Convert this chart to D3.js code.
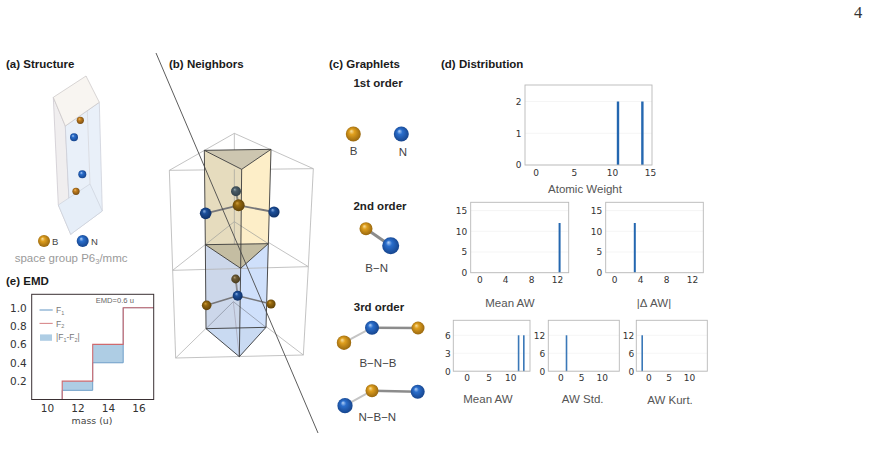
<!DOCTYPE html>
<html><head><meta charset="utf-8">
<script src="https://cdnjs.cloudflare.com/ajax/libs/d3/7.8.5/d3.min.js"></script>
<style>html,body{margin:0;padding:0;background:#fff}svg{display:block}</style></head>
<body><svg id="c" width="869" height="460"></svg>
<script>
// --- data ---
const panelTitles=["(a) Structure","(b) Neighbors","(c) Graphlets","(d) Distribution","(e) EMD"];
const emdBins=[9,11,13,15,17];
const emdF1=[0,0.1,0.4,1.0];
const emdF2=[0,0.2,0.6,1.0];
const emdTicksX=[10,12,14,16];
const emdTicksY=[0.2,0.4,0.6,0.8,1.0];
const atomicWeightValues=[10.8,14.0];
const atomicWeightCounts=[2,2];
const meanAwValues=[12.4];
const meanAwCounts=[12];
const deltaAwValues=[3.2];
const deltaAwCounts=[12];
const mean3Values=[11.9,13.1];
const mean3Counts=[6,6];
const std3Values=[1.5];
const std3Counts=[12];
const kurt3Values=[-1.5];
const kurt3Counts=[12];

const svg=d3.select("#c");
const SANS="'Liberation Sans',Arial,sans-serif", DJ="'DejaVu Sans',sans-serif";
const defs=svg.append("defs");
function grad(id,hi,mid,lo){
  const g=defs.append("radialGradient").attr("id",id).attr("cx","0.5").attr("cy","0.5").attr("r","0.6").attr("fx","0.36").attr("fy","0.3");
  g.append("stop").attr("offset","0").attr("stop-color",hi);
  g.append("stop").attr("offset","0.3").attr("stop-color",mid);
  g.append("stop").attr("offset","1").attr("stop-color",lo);
}
grad("gB","#f8e0a0","#df9f1e","#8a5c0c");
grad("gN","#b4d2f8","#2a6ecc","#123c80");
grad("gBd","#d09e3a","#97690e","#543a06");
grad("gNd","#8ab0e4","#1c4f9a","#0c2a5c");
grad("gGd","#94a6ae","#4a5c66","#2c3a42");
grad("gBr","#b09a70","#6c5a34","#40341a");
grad("gBo","#eebb77","#c4801e","#6a4210");

function text(s,x,y,o={}){
  return svg.append("text").attr("x",x).attr("y",y).text(s)
   .attr("font-family",o.f||SANS).attr("font-size",o.s||11.5).attr("font-weight",o.w||"normal")
   .attr("fill",o.c||"#444").attr("text-anchor",o.a||"start");
}
function poly(pts,fill,stroke,sw,op){
  svg.append("path").attr("d",d3.line().curve(d3.curveLinearClosed)(pts))
   .attr("fill",fill).attr("stroke",stroke||"none").attr("stroke-width",sw||0).attr("fill-opacity",op==null?1:op);
}
function seg(a,b,stroke,sw){
  svg.append("path").attr("d",d3.line()([a,b])).attr("stroke",stroke).attr("stroke-width",sw).attr("fill","none");
}
function atom(x,y,r,g){svg.append("circle").attr("cx",x).attr("cy",y).attr("r",r).attr("fill",`url(#${g})`);}

// page number
text("4",858,18,{f:"'Liberation Serif',serif",s:16.5,c:"#333",a:"middle"});

// titles
const titlePos=[[6,68],[169,68],[329,68],[441,68],[6,285]];
panelTitles.forEach((t,i)=>text(t,titlePos[i][0],titlePos[i][1],{w:"bold",s:11.5,c:"#1a1a1a"}));

// --- (a) structure ---
poly([[53.3,97.3],[65.3,126],[70.7,234.3],[58.3,205]],"#f0eeef","#c8c4cc",.7);
poly([[65.3,126],[99.3,102.3],[102.3,211],[70.7,234.3]],"#e9f0f9","#c8ccd6",.7);
poly([[58.3,205],[90,184],[102.3,211],[70.7,234.3]],"#e6eef8","#c8ccd6",.6);
seg([86,76],[90,184],"#d2d0d4",.6);
poly([[53.3,97.3],[86,76],[99.3,102.3],[65.3,126]],"#f8f5f1","#c8c4c4",.7);
atom(80.3,120.3,3.6,"gBo");atom(74,137.3,4,"gN");atom(82.3,174.3,4,"gN");atom(76,191.3,3.6,"gBo");
atom(44,241,6,"gB");atom(82.7,241,6,"gN");
text("B",52,244.5,{s:9.5,c:"#444"});text("N",91,244.5,{s:9.5,c:"#444"});
const sg=text("space group P6",14.7,261.5,{s:11.5,c:"#9a9a9a"});
sg.append("tspan").attr("font-size",7.5).attr("dy",2).text("3");
sg.append("tspan").attr("dy",-2).text("/mmc");

// --- (b) neighbors ---
const bx=p=>[150+p[0]/3,120+p[1]/3];
const wire="#b4b4b4";
function w(a,b,c,sw){seg(bx(a),bx(b),c||wire,sw||.8);}
w([253,40],[490,146]);w([253,40],[58,151]);w([58,151],[490,146]);
w([253,40],[253,305]);w([253,305],[250,545]);
w([253,305],[475,440]);w([253,305],[68,451]);
w([250,545],[460,705]);w([250,545],[77,714]);
const P=a=>a.map(bx);
poly(P([[163,91],[363,88],[275,148]]),"#cdc6b0");
poly(P([[163,91],[275,148],[272,445],[166,374]]),"#e6dcbe");
poly(P([[275,148],[363,88],[355,371],[272,445]]),"#fdeec8");
poly(P([[166,374],[272,445],[268,710],[168,626]]),"#ccd7ea");
poly(P([[272,445],[355,371],[348,622],[268,710]]),"#cfe0fb");
poly(P([[168,626],[348,622],[268,710]]),"#c9daf2");
w([253,305],[166,374],"#a8a8a0");w([253,305],[355,371],"#a8a8a0");
w([253,148],[253,374],"#a8a8a0");
poly(P([[166,374],[355,371],[272,445]]),"#c4bda2");
w([250,545],[168,626],"#8e96a4");w([250,545],[348,622],"#8e96a4");w([250,545],[268,710],"#aab");
w([68,451],[475,440]);
w([58,151],[68,451]);w([68,451],[77,714]);w([490,146],[475,440]);w([475,440],[460,705]);w([77,714],[460,705]);
const dk="#3a3a3a";
[[[163,91],[363,88]],[[363,88],[275,148]],[[275,148],[163,91]],[[163,91],[166,374]],[[363,88],[355,371]],[[275,148],[272,445]],
 [[166,374],[355,371]],[[166,374],[272,445]],[[355,371],[272,445]],[[272,445],[268,710]],[[166,374],[168,626]],[[355,371],[348,622]],
 [[168,626],[268,710]],[[348,622],[268,710]],[[168,626],[348,622]]].forEach(e=>w(e[0],e[1],dk,.9));
w([258,214],[266,256],"#8a8a80",2);
w([266,256],[167,280],"#77777a",1.8);w([266,256],[372,276],"#77777a",1.8);
w([257,477],[263,527],"#8a8a90",1.8);
w([263,527],[170,556],"#77777a",1.6);w([263,527],[363,552],"#77777a",1.6);
let q=bx([258,214]);atom(q[0],q[1],5,"gGd");
q=bx([266,256]);atom(q[0],q[1],6,"gBd");
q=bx([167,280]);atom(q[0],q[1],5.8,"gNd");
q=bx([372,276]);atom(q[0],q[1],5.6,"gNd");
q=bx([257,477]);atom(q[0],q[1],4.4,"gBr");
q=bx([263,527]);atom(q[0],q[1],5,"gNd");
q=bx([170,556]);atom(q[0],q[1],4.8,"gBd");
q=bx([363,552]);atom(q[0],q[1],4.6,"gBd");
seg([156,53],[318,433],"#4a4a4a",.9);

// --- (c) graphlets ---
const hd={w:"bold",s:11.5,c:"#222",a:"middle"};
text("1st order",378,87,hd);text("2nd order",380,210,hd);text("3rd order",379,310.5,hd);
atom(353.3,134,7.5,"gB");atom(401.3,134,7.5,"gN");
text("B",353.5,155,{a:"middle"});text("N",403,156,{a:"middle"});
seg([366,228.7],[390.7,245.7],"#8c8c8c",3);
atom(366,228.7,6.5,"gB");atom(390.7,245.7,8.5,"gN");
text("B−N",376.7,271.5,{a:"middle"});
seg([344,342.7],[372,327.7],"#c4c4c4",2);seg([372,327.7],[418,328],"#8c8c8c",2.6);
atom(344,342.7,7.2,"gB");atom(372,327.7,7,"gN");atom(418,328,6.5,"gB");
text("B−N−B",378,367,{a:"middle"});
seg([345,405.7],[372,390.7],"#c4c4c4",2);seg([372,390.7],[417.7,391.7],"#8c8c8c",2.6);
atom(345,405.7,7.6,"gN");atom(372,390.7,6.5,"gB");atom(417.7,391.7,7,"gN");
text("N−B−N",377.3,420.5,{a:"middle"});

// --- (d) histograms ---
function hist(o){
  const x=d3.scaleLinear().domain(o.xd).range([o.x0,o.x1]);
  const y=d3.scaleLinear().domain(o.yd).range([o.y0,o.y1]);
  const g=svg.append("g");
  g.selectAll(".gl").data(o.yt).join("line").attr("x1",o.x0).attr("x2",o.x1).attr("y1",d=>y(d)).attr("y2",d=>y(d)).attr("stroke","#f3f3f3").attr("stroke-width",.8);
  g.selectAll(".b").data(o.v).join("rect").attr("x",d=>x(d)-(o.bw||2)/2).attr("width",o.bw||2)
    .attr("y",(d,i)=>y(o.c[i])).attr("height",(d,i)=>y(0)-y(o.c[i])).attr("fill",o.col||"#2467b0");
  g.append("rect").attr("x",o.x0).attr("y",o.y1).attr("width",o.x1-o.x0).attr("height",o.y0-o.y1).attr("fill","none").attr("stroke","#b8b8b8").attr("stroke-width",.9);
  const ax=g.append("g").attr("transform",`translate(0,${o.y0})`).call(d3.axisBottom(x).tickValues(o.xt).tickSize(0).tickPadding(o.px).tickFormat(d3.format("d")));
  const ay=g.append("g").attr("transform",`translate(${o.x0},0)`).call(d3.axisLeft(y).tickValues(o.yt).tickSize(0).tickPadding(o.py).tickFormat(d3.format("d")));
  [ax,ay].forEach(a=>{a.select(".domain").remove();a.selectAll("text").attr("font-family",DJ).attr("font-size",9).attr("fill","#333");});
  text(o.label,o.lx,o.ly,{a:"middle",c:"#555"});
}
function lin(px0,px1,vx0,vx1,l,r){const k=(vx1-vx0)/(px1-px0);return [vx0+(l-px0)*k,vx0+(r-px0)*k];}
hist({x0:525,x1:652,y0:165,y1:85,xd:lin(535.7,650,0,15,525,652),yd:[0,2.52],xt:[0,5,10,15],yt:[0,1,2],v:atomicWeightValues,c:atomicWeightCounts,label:"Atomic Weight",lx:585,ly:193,bw:2.4,px:4.8,py:3.5});
hist({x0:470.7,x1:568.7,y0:272.7,y1:202.3,xd:lin(479.3,557,0,12,470.7,568.7),yd:[0,17],xt:[0,4,8,12],yt:[0,5,10,15],v:meanAwValues,c:meanAwCounts,label:"Mean AW",lx:510,ly:306.7,px:4,py:3.5});
hist({x0:605.7,x1:703.3,y0:272.7,y1:202.3,xd:lin(614,692,0,12,605.7,703.3),yd:[0,17],xt:[0,4,8,12],yt:[0,5,10,15],v:deltaAwValues,c:deltaAwCounts,label:"|Δ AW|",lx:654,ly:306.7,px:4,py:3.5});
hist({x0:453.3,x1:530,y0:371.2,y1:320.3,xd:lin(466.7,510.3,0,10,453.3,530),yd:[0,8.5],xt:[0,5,10],yt:[0,3,6],v:mean3Values,c:mean3Counts,label:"Mean AW",lx:488,ly:403,bw:1.6,col:"#3a78b8",px:3.7,py:2.5});
hist({x0:548.3,x1:619.3,y0:371.2,y1:320.3,xd:lin(560.3,601.7,0,10,548.3,619.3),yd:[0,17],xt:[0,5,10],yt:[0,6,12],v:std3Values,c:std3Counts,label:"AW Std.",lx:582.7,ly:403,bw:1.6,col:"#3a78b8",px:3.7,py:3});
hist({x0:636.3,x1:707.3,y0:371.2,y1:320.3,xd:lin(648.3,689,0,10,636.3,707.3),yd:[0,17],xt:[0,5,10],yt:[0,6,12],v:kurt3Values,c:kurt3Counts,label:"AW Kurt.",lx:670,ly:404,bw:1.6,col:"#3a78b8",px:3.7,py:2});

// --- (e) EMD ---
(function(){
  const L=31.7,R=153.7,B=399.5,T=294.3;
  const x=d3.scaleLinear().domain([9,17]).range([L,R]);
  const y=d3.scaleLinear().domain([0,1.146]).range([B,T]);
  const diff=emdF1.map((d,i)=>({a:emdBins[i],b:emdBins[i+1],lo:d,hi:emdF2[i]})).filter(d=>d.hi>d.lo);
  svg.append("g").selectAll("rect").data(diff).join("rect").attr("x",d=>x(d.a)).attr("width",d=>x(d.b)-x(d.a))
    .attr("y",d=>y(d.hi)).attr("height",d=>y(d.lo)-y(d.hi)).attr("fill","#aecde4");
  const steps=vals=>{const p=[];vals.forEach((v,i)=>{p.push([x(emdBins[i]),y(v)]);p.push([x(emdBins[i+1]),y(v)]);});return p;};
  const l=d3.line();
  svg.append("path").attr("d",l(steps(emdF1))).attr("fill","none").attr("stroke","#6f9fc8").attr("stroke-width",1);
  svg.append("path").attr("d",l(steps(emdF2))).attr("fill","none").attr("stroke","#cf6a6e").attr("stroke-width",1.1);
  svg.append("rect").attr("x",L).attr("y",T).attr("width",R-L).attr("height",B-T).attr("fill","none").attr("stroke","#3a3033").attr("stroke-width",1);
  const ax=svg.append("g").attr("transform",`translate(0,${B})`).call(d3.axisBottom(x).tickValues(emdTicksX).tickSize(0).tickPadding(5.5).tickFormat(d3.format("d")));
  const ay=svg.append("g").attr("transform",`translate(${L},0)`).call(d3.axisLeft(y).tickValues(emdTicksY).tickSize(0).tickPadding(5).tickFormat(d3.format(".1f")));
  [ax,ay].forEach(a=>{a.select(".domain").remove();a.selectAll("text").attr("font-family",DJ).attr("font-size",10.5).attr("fill","#333");});
  text("mass (u)",92,424,{a:"middle",f:DJ,s:9.4,c:"#444"});
  text("EMD=0.6 u",95.7,303,{s:7.6,c:"#666"});
  seg([39.5,310],[52.7,310],"#6f9fc8",1.1);
  seg([39.5,323.4],[52.7,323.4],"#d98a8c",1.1);
  svg.append("rect").attr("x",40).attr("y",334.4).attr("width",12).attr("height",6.4).attr("fill","#aecde4");
  const lg=(a,y0,b)=>{const t=text(a,56,y0,{s:8.5,c:"#777"});t.append("tspan").attr("font-size",5.5).attr("dy",1.5).text(b);};
  lg("F",313,"1");lg("F",326.5,"2");
  const t=text("|F",56,340,{s:8.5,c:"#777"});
  t.append("tspan").attr("font-size",5.5).attr("dy",1.5).text("1");
  t.append("tspan").attr("dy",-1.5).text("-F");
  t.append("tspan").attr("font-size",5.5).attr("dy",1.5).text("2");
  t.append("tspan").attr("dy",-1.5).text("|");
})();
</script></body></html>
